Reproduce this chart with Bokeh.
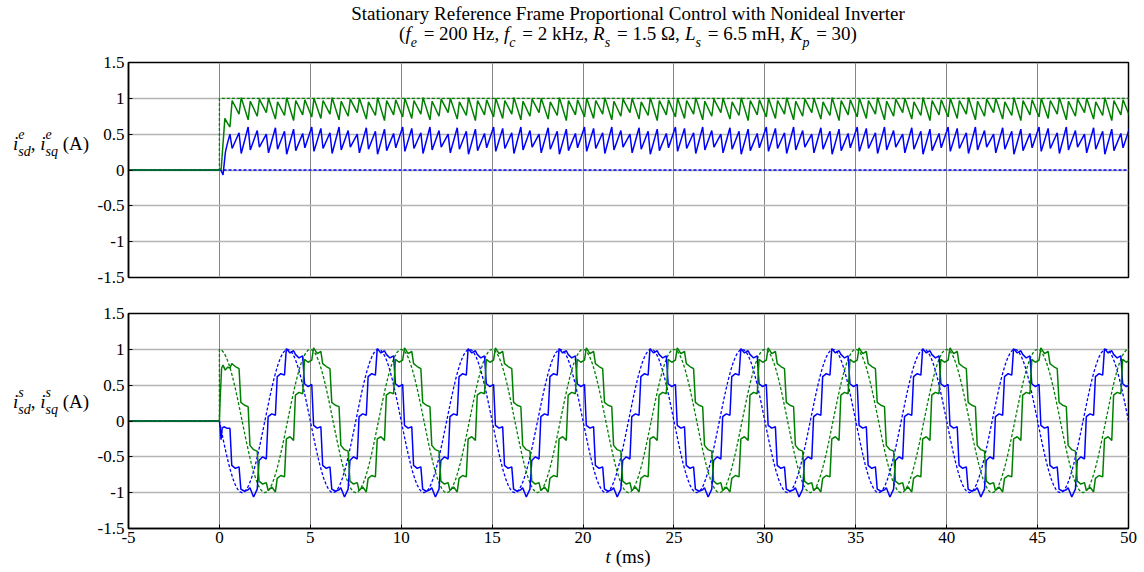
import numpy as np
from bokeh.plotting import figure
from bokeh.layouts import column, row
from bokeh.models import Range1d, FixedTicker, Div
from bokeh.embed import file_html
from bokeh.resources import INLINE

# ---------------- data ----------------
x_ticks = [-5, 0, 5, 10, 15, 20, 25, 30, 35, 40, 45, 50]
x_tick_labels = ["-5", "0", "5", "10", "15", "20", "25", "30", "35", "40", "45", "50"]
y_ticks = [-1.5, -1.0, -0.5, 0.0, 0.5, 1.0, 1.5]
y_tick_labels = ["-1.5", "-1", "-0.5", "0", "0.5", "1", "1.5"]

t_start = -5.0
t_end = 50.0
fund_period = 5.0      # ms  (fe = 200 Hz)
carrier_period = 0.5   # ms  (fc = 2 kHz)
n_periods = 10
step_delay = 0.08
ramp = 0.1
tooth_edge = 0.12

# stationary-frame references over one fundamental period (every 0.125 ms)
ref_q_period = [1.000, 0.988, 0.951, 0.891, 0.809, 0.707, 0.588, 0.454, 0.309, 0.156,
                0.000, -0.156, -0.309, -0.454, -0.588, -0.707, -0.809, -0.891, -0.951, -0.988,
                -1.000, -0.988, -0.951, -0.891, -0.809, -0.707, -0.588, -0.454, -0.309, -0.156,
                0.000, 0.156, 0.309, 0.454, 0.588, 0.707, 0.809, 0.891, 0.951, 0.988]
ref_d_period = [0.000, -0.156, -0.309, -0.454, -0.588, -0.707, -0.809, -0.891, -0.951, -0.988,
                -1.000, -0.988, -0.951, -0.891, -0.809, -0.707, -0.588, -0.454, -0.309, -0.156,
                0.000, 0.156, 0.309, 0.454, 0.588, 0.707, 0.809, 0.891, 0.951, 0.988,
                1.000, 0.988, 0.951, 0.891, 0.809, 0.707, 0.588, 0.454, 0.309, 0.156]

# stationary-frame actual currents, per carrier interval of one fundamental period
iqs_after = [1.02, 0.80, 0.26, -0.34, -0.84, -0.97, -0.80, -0.25, 0.36, 0.86]
iqs_mid = [0.94, 0.76, 0.22, -0.40, -0.88, -0.92, -0.76, -0.22, 0.40, 0.82]
iqs_end = [0.97, 0.73, 0.20, -0.42, -0.86, -0.99, -0.78, -0.27, 0.38, 0.85]
ids_after = [-0.06, -0.62, -0.95, -0.93, -0.55, 0.06, 0.62, 1.01, 0.93, 0.52]
ids_mid = [-0.10, -0.66, -0.98, -1.06, -0.50, 0.10, 0.66, 0.95, 0.88, 0.48]
ids_end = [-0.08, -0.64, -0.96, -0.95, -0.53, 0.08, 0.64, 0.98, 0.91, 0.51]

# start-up (first carrier interval)
iqs_start_t = [0.0, 0.04, 0.12, 0.20, 0.32, 0.45, 0.58]
iqs_start_v = [0.0, 0.30, 0.74, 0.78, 0.71, 0.75, 0.74]
ids_start_t = [0.0, 0.05, 0.09, 0.15, 0.25, 0.40, 0.58]
ids_start_v = [0.0, -0.12, -0.26, -0.10, -0.08, -0.10, -0.10]

# synchronous-frame actual currents: tooth peaks / valleys per carrier interval
iqe_peak = [1.00, 0.97, 1.01, 0.96, 0.99, 1.00, 0.95, 1.01, 0.97, 0.98]
iqe_valley = [0.72, 0.78, 0.70, 0.75, 0.80, 0.71, 0.76, 0.69, 0.77, 0.74]
ide_peak = [0.58, 0.52, 0.60, 0.55, 0.50, 0.59, 0.54, 0.57, 0.51, 0.60]
ide_valley = [0.26, 0.30, 0.23, 0.28, 0.32, 0.24, 0.29, 0.22, 0.27, 0.31]
iqe_start_t = [0.0, 0.10, 0.30, 0.45, 0.58]
iqe_start_v = [0.0, 0.02, 0.72, 0.65, 0.60]
ide_start_t = [0.0, 0.08, 0.20, 0.33, 0.42, 0.58]
ide_start_v = [0.0, 0.0, -0.07, 0.25, 0.35, 0.50]

# synchronous-frame references
iqe_ref_t = [t_start, 0.0, 0.0, t_end]
iqe_ref_v = [0.0, 0.0, 1.0, 1.0]
ide_ref_t = [t_start, t_end]
ide_ref_v = [0.0, 0.0]

GREEN = "#008000"
BLUE = "#0000ff"
FONT = "Liberation Serif"
TICK_PX = 17
LABEL_PX = 19
SUB_PX = 14


# ---------------- series builders ----------------
def tile_ref(period_vals):
    dt = fund_period / len(period_vals)
    t = [t_start, 0.0]
    v = [0.0, 0.0]
    for n in range(n_periods):
        for i, val in enumerate(period_vals):
            t.append(n * fund_period + i * dt)
            v.append(val)
    t.append(t_end)
    v.append(period_vals[0])
    return t, v


def build_stair(st_t, st_v, after, mid, end):
    t = [t_start] + list(st_t)
    v = [0.0] + list(st_v)
    for n in range(n_periods):
        for k in range(len(after)):
            if n == 0 and k == 0:
                continue
            s = n * fund_period + k * carrier_period + step_delay
            t += [s + ramp, s + 0.3, s + carrier_period]
            v += [after[k], mid[k], end[k]]
    return t, v


def build_teeth(st_t, st_v, first, second):
    t = [t_start] + list(st_t)
    v = [0.0] + list(st_v)
    for n in range(n_periods):
        for k in range(len(first)):
            if n == 0 and k == 0:
                continue
            s = n * fund_period + k * carrier_period + step_delay
            t += [s + tooth_edge, s + carrier_period]
            v += [first[k], second[k]]
    return t, v


# ---------------- text helpers (HTML, real text) ----------------
W_REG = {' ': 250, '(': 333, ')': 333, '=': 564, ',': 250, '.': 250, 'H': 722, 'z': 444,
         'k': 500, 'm': 778, 'Ω': 768, 'A': 722, 's': 389}
W_ITA = {'f': 278, 'e': 444, 'c': 444, 'R': 611, 's': 389, 'L': 556, 'K': 667, 'p': 500,
         'i': 278, 'd': 500, 'q': 500, 't': 278}


def text_w(s, italic, size):
    tab = W_ITA if italic else W_REG
    return sum(tab.get(ch, 500) for ch in s) * size / 1000.0


def span(s, left, baseline, size, italic):
    top = baseline - 0.3375 * size
    style = (f"position:absolute;left:{left:.1f}px;top:{top:.1f}px;line-height:0;"
             f"white-space:pre;font-family:'{FONT}';font-size:{size}px;color:black;"
             f"font-style:{'italic' if italic else 'normal'};margin:0;padding:0;")
    return f'<span style="{style}">{s}</span>'


def pieces_html(pieces, x, baseline, align="left"):
    # piece: (text, italic, size, dy (down positive), advance, extra gap after)
    total = sum(text_w(s, it, sz) + g for s, it, sz, dy, adv, g in pieces if adv)
    cx = x - total / 2.0 if align == "center" else x
    out = []
    for s, it, sz, dy, adv, g in pieces:
        out.append(span(s, cx, baseline + dy, sz, it))
        if adv:
            cx += text_w(s, it, sz) + g
    return "".join(out)


def box(inner, w, h):
    return (f'<div style="position:relative;width:{w}px;height:{h}px;margin:0;padding:0;'
            f'overflow:visible;">{inner}</div>')


def make_div(inner, w, h):
    return Div(text=box(inner, w, h), width=w, height=h, margin=0,
               styles={"overflow": "visible"})


def style(p, x_labels):
    p.y_range = Range1d(-1.5, 1.5)
    p.xaxis.ticker = FixedTicker(ticks=x_ticks)
    p.yaxis.ticker = FixedTicker(ticks=y_ticks)
    p.xaxis.major_label_overrides = {float(a): b for a, b in zip(x_ticks, x_tick_labels)}
    p.yaxis.major_label_overrides = {float(a): b for a, b in zip(y_ticks, y_tick_labels)}
    for ax in (p.xaxis[0], p.yaxis[0]):
        ax.major_tick_in = 4
        ax.major_tick_out = 0
        ax.minor_tick_line_color = None
        ax.axis_line_width = 1.5
        ax.axis_line_color = "black"
        ax.major_tick_line_color = "black"
        ax.major_label_text_font = FONT
        ax.major_label_text_font_size = f"{TICK_PX}px"
        ax.major_label_text_color = "black"
    p.yaxis.major_label_standoff = 4
    p.xaxis.major_label_standoff = 3
    if not x_labels:
        p.xaxis.visible = False
    p.xgrid.grid_line_color = "#858585"
    p.xgrid.grid_line_width = 1
    p.ygrid.grid_line_color = "#b4b4b4"
    p.ygrid.grid_line_width = 1.5
    p.outline_line_color = "black"
    p.outline_line_width = 1.5
    p.outline_line_alpha = 1.0
    p.background_fill_color = "white"
    p.border_fill_color = "white"


LEFT_DIV_W = 90
FIG_W = 1144 - LEFT_DIV_W
TITLE_H = 52
ROW1_H = 243
ROW2_H = 257
XLAB_H = 572 - TITLE_H - ROW1_H - ROW2_H

x_range = Range1d(t_start, t_end)

# ---------------- top panel (synchronous frame) ----------------
p1 = figure(width=FIG_W, height=ROW1_H, output_backend="svg", toolbar_location=None,
            x_range=x_range, min_border_left=128 - LEFT_DIV_W, min_border_right=16,
            min_border_top=10, min_border_bottom=18)
style(p1, False)
p1.line(ide_ref_t, ide_ref_v, color=BLUE, line_width=1.3, line_dash="3 2")
p1.line(iqe_ref_t, iqe_ref_v, color=GREEN, line_width=1.3, line_dash="3 2")
t, v = build_teeth(ide_start_t, ide_start_v, ide_valley, ide_peak)
p1.line(t, v, color=BLUE, line_width=1.5)
t, v = build_teeth(iqe_start_t, iqe_start_v, iqe_peak, iqe_valley)
p1.line(t, v, color=GREEN, line_width=1.5)

# ---------------- bottom panel (stationary frame) ----------------
p2 = figure(width=FIG_W, height=ROW2_H, output_backend="svg", toolbar_location=None,
            x_range=x_range, min_border_left=128 - LEFT_DIV_W, min_border_right=16,
            min_border_top=18, min_border_bottom=24)
style(p2, True)
t, v = tile_ref(ref_d_period)
p2.line(t, v, color=BLUE, line_width=1.3, line_dash="3 2")
t, v = tile_ref(ref_q_period)
t = t[:2] + [0.0] + t[2:]
v = v[:2] + [0.0] + v[2:]
p2.line(t, v, color=GREEN, line_width=1.3, line_dash="3 2")
t, v = build_stair(ids_start_t, ids_start_v, ids_after, ids_mid, ids_end)
p2.line(t, v, color=BLUE, line_width=1.5)
t, v = build_stair(iqs_start_t, iqs_start_v, iqs_after, iqs_mid, iqs_end)
p2.line(t, v, color=GREEN, line_width=1.5)

# ---------------- texts ----------------
CX = 628
M, S = LABEL_PX, SUB_PX
title_line1 = "Stationary Reference Frame Proportional Control with Nonideal Inverter"
line1 = (f'<div style="position:absolute;left:{CX - 572}px;top:{20 - 0.3375 * M:.1f}px;width:1144px;'
         f'text-align:center;line-height:0;white-space:pre;font-family:\'{FONT}\';'
         f'font-size:{M}px;color:black;">{title_line1}</div>')
sub = 8
g = 2
line2 = pieces_html([("(", False, M, 0, True, 0), ("f", True, M, 0, True, 0), ("e", True, S, sub, True, g),
                     (" = 200 Hz, ", False, M, 0, True, 0), ("f", True, M, 0, True, 0), ("c", True, S, sub, True, g),
                     (" = 2 kHz, ", False, M, 0, True, 0), ("R", True, M, 0, True, 0), ("s", True, S, sub, True, g),
                     (" = 1.5 Ω, ", False, M, 0, True, 0), ("L", True, M, 0, True, 0), ("s", True, S, sub, True, g),
                     (" = 6.5 mH, ", False, M, 0, True, 0), ("K", True, M, 0, True, 0), ("p", True, S, sub, True, g),
                     (" = 30)", False, M, 0, True, 0)], CX, 40, "center")
title_div = make_div(line1 + line2, 1144, TITLE_H)


def ylabel_html(sup, baseline):
    return pieces_html([("i", True, M, 0, True, 0), (sup, True, S, -10, False, 0), ("sd", True, S, 7, True, 0),
                        (", ", False, M, 0, True, 0),
                        ("i", True, M, 0, True, 0), (sup, True, S, -10, False, 0), ("sq", True, S, 7, True, 0),
                        (" (A)", False, M, 0, True, 0)], 13, baseline)


yl1 = make_div(ylabel_html("e", 150 - TITLE_H), LEFT_DIV_W, ROW1_H)
yl2 = make_div(ylabel_html("s", 408 - TITLE_H - ROW1_H), LEFT_DIV_W, ROW2_H)
xl = make_div(pieces_html([("t", True, M, 0, True, 0), (" (ms)", False, M, 0, True, 0)], CX,
                          563 - (572 - XLAB_H), "center"), 1144, XLAB_H)

layout = column(title_div, row(yl1, p1, spacing=0), row(yl2, p2, spacing=0), xl, spacing=0)
open("out.html", "w").write(file_html(layout, INLINE))
